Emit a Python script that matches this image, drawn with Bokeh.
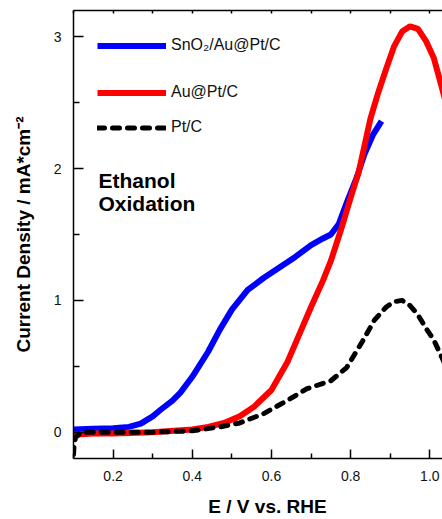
from bokeh.plotting import figure
from bokeh.models import (Range1d, FixedTicker, LinearAxis, Label, Legend, LegendItem)
from bokeh.embed import file_html
from bokeh.resources import INLINE

# ---- data ----
blue_x = [0.10, 0.15, 0.20, 0.24, 0.27, 0.30, 0.32, 0.35, 0.37, 0.40, 0.44, 0.47, 0.50,
          0.54, 0.58, 0.62, 0.66, 0.70, 0.73, 0.75, 0.77, 0.79, 0.815, 0.835, 0.857, 0.878]
blue_y = [0.02, 0.025, 0.03, 0.04, 0.065, 0.12, 0.17, 0.24, 0.30, 0.42, 0.61, 0.78, 0.93,
          1.08, 1.17, 1.25, 1.33, 1.42, 1.47, 1.50, 1.58, 1.74, 1.93, 2.11, 2.26, 2.36]

red_x = [0.10, 0.15, 0.20, 0.30, 0.40, 0.44, 0.48, 0.52, 0.555, 0.60, 0.64, 0.67, 0.70,
         0.73, 0.75, 0.775, 0.80, 0.82, 0.85, 0.87, 0.89, 0.91, 0.93, 0.95, 0.97, 0.99,
         1.01, 1.03, 1.045]
red_y = [-0.02, -0.01, -0.01, 0.0, 0.02, 0.04, 0.07, 0.12, 0.19, 0.32, 0.53, 0.74, 0.95,
         1.15, 1.30, 1.53, 1.78, 1.97, 2.38, 2.58, 2.76, 2.93, 3.04, 3.08, 3.06, 2.97,
         2.84, 2.62, 2.45]

black_x = [0.10, 0.101, 0.105, 0.12, 0.20, 0.30, 0.40, 0.47, 0.52, 0.58, 0.64, 0.69, 0.75,
           0.79, 0.83, 0.86, 0.89, 0.91, 0.93, 0.95, 0.97, 0.99, 1.01, 1.03, 1.045]
black_y = [-0.17, -0.12, -0.04, 0.0, 0.0, 0.0, 0.01, 0.04, 0.07, 0.14, 0.24, 0.33, 0.39,
           0.49, 0.69, 0.85, 0.95, 0.99, 1.0, 0.96, 0.89, 0.79, 0.70, 0.57, 0.47]

series_labels = ["SnO\u2082/Au@Pt/C", "Au@Pt/C", "Pt/C"]
x_ticks = [0.2, 0.4, 0.6, 0.8, 1.0]
x_minor = [0.1, 0.3, 0.5, 0.7, 0.9]
top_ticks = [0.1, 0.2, 0.3, 0.4, 0.5, 0.6, 0.7, 0.8, 0.9, 1.0]
y_ticks = [0, 1, 2, 3]
y_minor = [0.5, 1.5, 2.5]
x_title = "E / V vs. RHE"
y_title = "Current Density / mA*cm\u207b\u00b2"
note_lines = ["Ethanol", "Oxidation"]

FONT = "Liberation Sans"

p = figure(width=442, height=519, output_backend="svg", toolbar_location=None,
           x_range=Range1d(0.1, 1.032), y_range=Range1d(-0.2, 3.2),
           x_axis_location=None, y_axis_location=None,
           min_border_left=73, min_border_right=0, min_border_top=10, min_border_bottom=61)
p.outline_line_color = None
p.xgrid.visible = False
p.ygrid.visible = False
p.background_fill_color = "white"
p.border_fill_color = "white"

def style_axis(ax):
    ax.axis_line_color = "black"
    ax.axis_line_width = 1.5
    ax.major_tick_line_color = "black"
    ax.minor_tick_line_color = "black"
    ax.major_tick_line_width = 1.5
    ax.minor_tick_line_width = 1.5
    ax.major_tick_out = 0
    ax.minor_tick_out = 0
    ax.major_label_text_font = FONT
    ax.major_label_text_font_size = "14px"
    ax.major_label_text_color = "#111111"
    ax.major_label_standoff = 12
    ax.axis_label_text_font = FONT
    ax.axis_label_text_font_style = "bold"
    ax.axis_label_text_font_size = "19px"
    ax.axis_label_text_color = "black"
    ax.axis_label_text_line_height = 1.0

xb = LinearAxis(ticker=FixedTicker(ticks=x_ticks, minor_ticks=x_minor))
style_axis(xb)
xb.major_tick_in = 9
xb.minor_tick_in = 5
xb.major_label_standoff = 12
xb.major_label_overrides = {t: f"{t:.1f}" for t in x_ticks}
# two en spaces shift the centred title right, as in the reference
xb.axis_label = "\u2002\u2002" + x_title
xb.axis_label_standoff = 12
p.add_layout(xb, "below")

# top frame line with small inward ticks, no labels (all ticks are minor ticks)
xt = LinearAxis(ticker=FixedTicker(ticks=[], minor_ticks=top_ticks))
style_axis(xt)
xt.minor_tick_in = 3
xt.major_label_standoff = 0
p.add_layout(xt, "above")

yl = LinearAxis(ticker=FixedTicker(ticks=y_ticks, minor_ticks=y_minor))
style_axis(yl)
yl.major_tick_in = 10
yl.minor_tick_in = 6
yl.axis_label = y_title
yl.axis_label_standoff = 17
p.add_layout(yl, "left")

r_blue = p.line(blue_x, blue_y, line_color="#0000ff", line_width=6)
r_red = p.line(red_x, red_y, line_color="#ff0000", line_width=6)
r_black = p.line(black_x, black_y, line_color="black", line_width=5,
                 line_dash="7 8", line_cap="round")

renderers = [r_blue, r_red, r_black]
legend_y = [404, 357, 322]
for lab, rr, ly in zip(series_labels, renderers, legend_y):
    lg = Legend(items=[LegendItem(label=lab, renderers=[rr])], location=(24, ly),
                orientation="vertical", glyph_width=69, glyph_height=15, label_height=15,
                label_standoff=5, padding=0, margin=0, spacing=0,
                border_line_color=None, background_fill_alpha=0,
                label_text_font=FONT, label_text_font_size="16px", label_text_color="#111111")
    p.add_layout(lg, "center")

for i, txt in enumerate(note_lines):
    p.add_layout(Label(x=25, y=278 - 23 * i, x_units="screen", y_units="screen", text=txt,
                       text_font=FONT, text_font_style="bold", text_font_size="21px",
                       text_baseline="middle", text_align="left", text_color="black"))

open("out.html", "w").write(file_html(p, INLINE))
